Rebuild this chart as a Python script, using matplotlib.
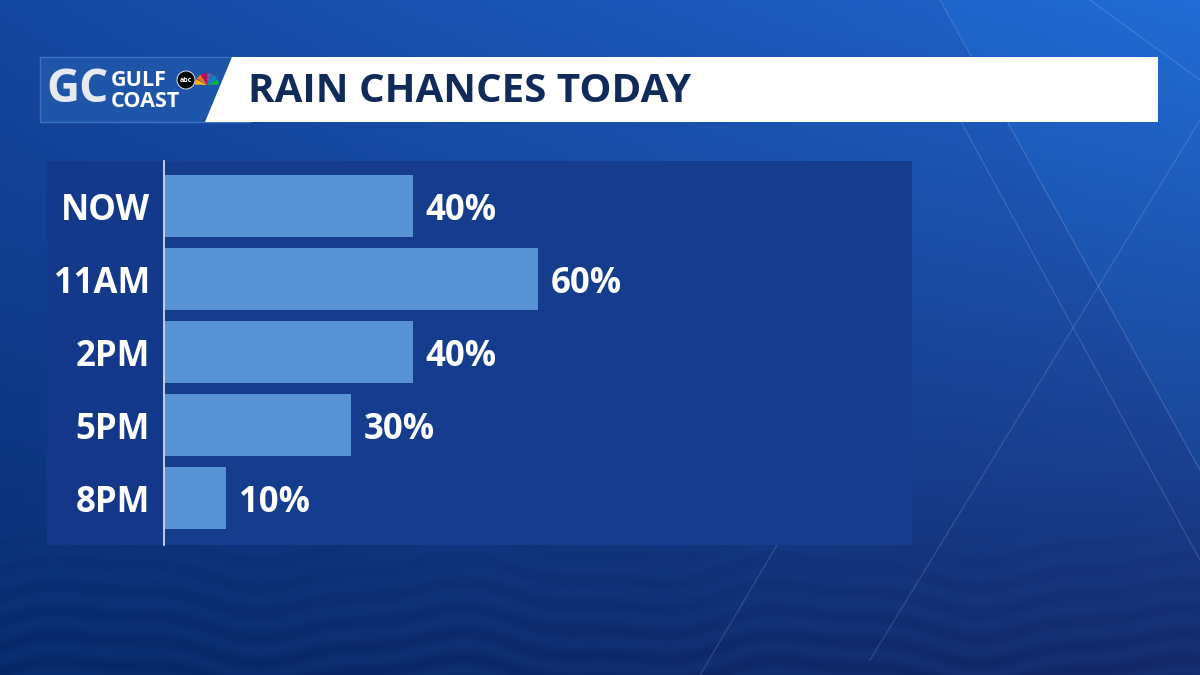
import numpy as np
import matplotlib.pyplot as plt
from matplotlib.patches import Polygon, Rectangle, Circle, Wedge

plt.rcParams['font.family'] = ['Open Sans', 'DejaVu Sans']

times = ["NOW", "11AM", "2PM", "5PM", "8PM"]
chances = [40, 60, 40, 30, 10]
title = "RAIN CHANCES TODAY"

W, H = 1200, 675
fig = plt.figure(figsize=(12, 6.75), dpi=100)

# background (pixel coordinates)
bg = fig.add_axes([0, 0, 1, 1])
bg.set_xlim(0, W)
bg.set_ylim(H, 0)
bg.axis("off")

yy, xx = np.mgrid[0:H, 0:W]
t = yy / H
s = xx / W
r = 0.08 + 0.05 * s - 0.04 * t
g = 0.28 + 0.12 * s * (1 - t) - 0.10 * t
b = 0.63 + 0.18 * s * (1 - t) - 0.18 * t
# slightly lighter wedge at top right
mask = (xx - 940) > (yy * 0.55)
g = g + mask * 0.025
b = b + mask * 0.03
# water band at the bottom
depth = np.clip((yy - 480) / 195, 0, 1)
wave = depth * (0.5 + 0.5 * np.sin(yy / 4.0 + np.sin(xx / 57.0) * 3 + np.sin(xx / 23.0)))
r = r + wave * 0.015 - depth * 0.02
g = g + wave * 0.03 - depth * 0.03
b = b + wave * 0.04 - depth * 0.05
img = np.dstack([np.clip(r, 0, 1), np.clip(g, 0, 1), np.clip(b, 0, 1)])
bg.imshow(img, extent=[0, W, H, 0], aspect="auto", zorder=0)

# faint diagonal streaks
for x0, y0, x1, y1 in [(960, 120, 1200, 560), (1200, 120, 870, 660), (1090, 0, 1200, 80),
                       (940, 0, 1200, 470), (700, 675, 780, 540)]:
    bg.plot([x0, x1], [y0, y1], color="white", alpha=0.13, lw=1, zorder=1)

# header
bg.add_patch(Rectangle((40, 57), 210, 65, facecolor="#1f55a8", edgecolor="#3d72c4", lw=1, zorder=2))
bg.add_patch(Polygon([(232, 57), (1158, 57), (1158, 122), (205, 122)], closed=True,
                     facecolor="white", edgecolor="none", zorder=3))
bg.text(248, 91, title, color="#122a5a", fontsize=29, fontweight="bold", va="center", ha="left", zorder=4)
bg.text(46, 90, "GC", color="#e6eaf0", fontsize=33, fontweight="bold", va="center", ha="left", zorder=4)
bg.text(111, 86, "GULF", color="white", fontsize=15.5, fontweight="bold", va="baseline", ha="left", zorder=4)
bg.text(111, 107, "COAST", color="white", fontsize=15.5, fontweight="bold", va="baseline", ha="left", zorder=4)
bg.add_patch(Circle((186, 80), 9, facecolor="black", edgecolor="white", lw=0.6, zorder=4))
bg.text(186, 80.5, "abc", color="white", fontsize=5, fontweight="bold", va="center", ha="center", zorder=5)
for i, c in enumerate(["#fcb711", "#f37021", "#cc004c", "#6460aa", "#0089d0", "#0db14b"]):
    bg.add_patch(Wedge((207, 85), 12, 180 + i * 30 + 2, 180 + i * 30 + 28, facecolor=c,
                       edgecolor="none", zorder=4))

# label column of the panel
bg.add_patch(Rectangle((47, 161), 116, 384, facecolor="#15388a", edgecolor="none", alpha=0.95, zorder=2))

# chart
ax = fig.add_axes([164 / W, 1 - 545 / H, 748 / W, 384 / H])
ax.set_facecolor("#163c8d")
y = np.arange(len(times))
ax.barh(y, chances, height=0.85, color="#5793d4", zorder=2)
for yi, v in zip(y, chances):
    ax.text(v + 2, yi, f"{v}%", color="white", fontsize=25, fontweight="bold",
            va="center_baseline", ha="left")
ax.set_xlim(0, 120)
ax.set_ylim(4.64, -0.62)
ax.set_xticks([])
ax.set_yticks(y)
ax.set_yticklabels(times, color="white", fontsize=25, fontweight="bold")
ax.tick_params(axis="y", length=0, pad=10)
for sp in ["top", "right", "bottom"]:
    ax.spines[sp].set_visible(False)
ax.spines["left"].set_color("#d0d8e8")
ax.spines["left"].set_linewidth(1.3)

fig.savefig("out.png", dpi=100)
